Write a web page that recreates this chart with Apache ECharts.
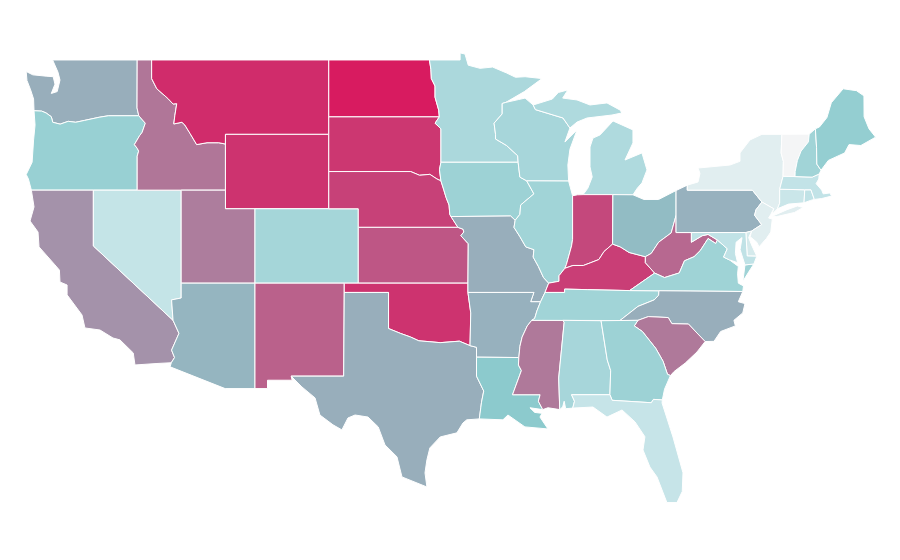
<!DOCTYPE html>
<html><head><meta charset="utf-8">
<style>html,body{margin:0;padding:0;background:#fff}#c{width:900px;height:560px}</style>
<script src="https://cdn.jsdelivr.net/npm/echarts@6/dist/echarts.min.js"></script>
</head><body><div id="c"></div>
<script>
const stateNames=['WA','OR','CA','NV','ID','MT','WY','UT','AZ','CO','NM','ND','SD','NE','KS','OK','TX','MN','IA','MO','AR','LA','WI','IL','MS','MI','IN','KY','TN','AL','OH','WV','VA','NC','SC','GA','FL','PA','NY','NJ','DE','MD','CT','RI','MA','VT','NH','ME'];
const stateValues=[58,44,66,23,74,95,93,72,56,38,80,100,92,89,83,93,58,35,42,58,57,50,37,40,73,33,87,90,40,37,54,78,41,58,73,42,22,57,9,9,15,25,20,25,24,0,40,46];
const rampStops=['#f4f5f6','#c0e2e6','#8ccacd','#b27296','#d81b60'];

const shapes={
WA:[[[-117.03,49],[-122.76,49],[-122.4,48.35],[-122.26,47.92],[-122.45,47.3],[-122.85,47.2],[-122.6,47.7],[-122.72,48.1],[-123.2,48.13],[-124.1,48.2],[-124.55,48.38],[-124.5,47.9],[-124.25,47.39],[-124.05,46.9],[-124.02,46.27],[-123.5,46.25],[-123.2,46.15],[-122.85,45.95],[-122.75,45.65],[-122.25,45.55],[-121.7,45.7],[-121.2,45.65],[-120.6,45.75],[-119.6,45.92],[-118.98,46],[-116.92,46],[-117.04,46.42]]],
OR:[[[-124.02,46.27],[-123.5,46.25],[-123.2,46.15],[-122.85,45.95],[-122.75,45.65],[-122.25,45.55],[-121.7,45.7],[-121.2,45.65],[-120.6,45.75],[-119.6,45.92],[-118.98,46],[-116.92,46],[-116.48,45.6],[-116.7,45.1],[-116.85,44.95],[-117.22,44.45],[-117.03,44.25],[-116.93,44.1],[-117.03,43.83],[-117.03,42],[-124.2,42],[-124.4,42.6],[-124.55,42.84],[-124.15,43.5],[-124.05,44.7],[-123.95,45.5]]],
CA:[[[-124.2,42],[-120,42],[-120,39],[-114.6,35],[-114.2,34.3],[-114.7,33.4],[-114.5,33],[-114.72,32.72],[-115.69,32.68],[-117.18,32.6],[-117.3,33.25],[-118.2,33.95],[-118.67,34.05],[-119.55,34.48],[-120.57,34.59],[-120.77,35.29],[-121.78,36.37],[-121.78,36.9],[-122.26,37.06],[-122.3,37.7],[-122.6,37.98],[-123.68,38.95],[-123.75,39.75],[-124.29,40.34],[-124.02,41.1]]],
NV:[[[-120,42],[-114.05,42],[-114.05,36.2],[-114.7,36.1],[-114.6,35],[-120,39]]],
ID:[[[-117.03,49],[-116.05,49],[-116.05,48],[-115.7,47.45],[-114.95,46.93],[-114.6,46.63],[-114.35,46.65],[-114.48,46],[-114.55,45.56],[-114,45.65],[-113.8,45.5],[-113.45,45.05],[-113,44.45],[-112.3,44.55],[-111.5,44.55],[-111.05,44.48],[-111.05,42],[-117.03,42],[-117.03,43.83],[-116.93,44.1],[-117.03,44.25],[-117.22,44.45],[-116.85,44.95],[-116.7,45.1],[-116.48,45.6],[-116.92,46],[-117.04,46.42]]],
MT:[[[-116.05,49],[-104.05,49],[-104.05,45],[-111.05,45],[-111.05,44.48],[-111.5,44.55],[-112.3,44.55],[-113,44.45],[-113.45,45.05],[-113.8,45.5],[-114,45.65],[-114.55,45.56],[-114.48,46],[-114.35,46.65],[-114.6,46.63],[-114.95,46.93],[-115.7,47.45],[-116.05,48]]],
WY:[[[-111.05,45],[-104.05,45],[-104.05,41],[-111.05,41]]],
UT:[[[-111.05,42],[-111.05,41],[-109.05,41],[-109.05,37],[-114.05,37],[-114.05,42]]],
AZ:[[[-114.05,37],[-109.05,37],[-109.05,31.33],[-111.07,31.33],[-114.8,32.5],[-114.72,32.72],[-114.5,33],[-114.7,33.4],[-114.2,34.3],[-114.6,35],[-114.7,36.1],[-114.05,36.2]]],
CO:[[[-109.05,41],[-102.05,41],[-102.05,37],[-109.05,37]]],
NM:[[[-109.05,37],[-103,37],[-103.04,32],[-106.6,32],[-106.53,31.78],[-108.2,31.78],[-108.2,31.33],[-109.05,31.33]]],
ND:[[[-104.05,49],[-97.23,49],[-97.13,48.5],[-97.1,48],[-96.85,47.6],[-96.85,47],[-96.6,46.3],[-96.56,45.94],[-104.05,45.94]]],
SD:[[[-104.05,45.94],[-96.56,45.94],[-96.85,45.6],[-96.45,45.3],[-96.45,43.5],[-96.55,43.1],[-96.45,42.5],[-96.72,42.6],[-97.2,42.85],[-97.9,42.8],[-98.5,43],[-104.05,43]]],
NE:[[[-104.05,43],[-98.5,43],[-97.9,42.8],[-97.2,42.85],[-96.72,42.6],[-96.45,42.5],[-96.25,42],[-96.1,41.6],[-95.9,41.2],[-95.85,40.7],[-95.77,40.58],[-95.3,40],[-102.05,40],[-102.05,41],[-104.05,41]]],
KS:[[[-102.05,40],[-95.3,40],[-94.95,39.9],[-94.9,39.75],[-95.1,39.55],[-94.6,39.12],[-94.62,37],[-102.05,37]]],
OK:[[[-103,37],[-94.62,37],[-94.62,36.5],[-94.43,35.4],[-94.48,33.64],[-95.2,33.88],[-96.5,33.8],[-97.2,33.85],[-97.95,33.9],[-98.5,34.1],[-99.2,34.3],[-100,34.56],[-100,36.5],[-103,36.5]]],
TX:[[[-106.6,32],[-103.04,32],[-103,36.5],[-100,36.5],[-100,34.56],[-99.2,34.3],[-98.5,34.1],[-97.95,33.9],[-97.2,33.85],[-96.5,33.8],[-95.2,33.88],[-94.48,33.64],[-94.04,33.55],[-94.04,33.02],[-94.04,32],[-93.55,31.2],[-93.7,30.6],[-93.75,30.3],[-93.85,29.7],[-94.7,29.65],[-94.96,29.48],[-95.37,28.95],[-96.5,28.73],[-97.2,28.14],[-97.4,27.5],[-97.53,26.8],[-97.4,26.04],[-99.09,26.58],[-99.43,27.66],[-100.24,28.3],[-100.7,29.27],[-101.39,29.8],[-102.27,29.91],[-102.75,29.75],[-103.16,29.11],[-103.76,29.38],[-104.65,29.91],[-104.98,30.83],[-105.87,31.42]]],
MN:[[[-97.23,49],[-95.15,49],[-95.15,49.38],[-94.82,49.32],[-94.6,48.72],[-93.8,48.55],[-92.95,48.62],[-92,48.3],[-91.4,48.07],[-90.75,48.1],[-89.6,48],[-90.8,47.3],[-92.05,46.72],[-92.3,46.66],[-92.3,46.1],[-92.85,45.6],[-92.75,45],[-92.75,44.75],[-92,44.4],[-91.25,43.85],[-91.22,43.5],[-96.45,43.5],[-96.45,45.3],[-96.85,45.6],[-96.56,45.94],[-96.6,46.3],[-96.85,47],[-96.85,47.6],[-97.1,48],[-97.13,48.5]]],
IA:[[[-96.45,43.5],[-91.22,43.5],[-91.1,42.7],[-90.64,42.5],[-90.15,41.8],[-91.05,41.2],[-91.1,40.7],[-91.42,40.38],[-91.73,40.61],[-95.77,40.58],[-95.85,40.7],[-95.9,41.2],[-96.1,41.6],[-96.25,42],[-96.45,42.5],[-96.55,43.1]]],
MO:[[[-95.77,40.58],[-91.73,40.61],[-91.42,40.38],[-91.5,40],[-91.1,39.5],[-90.7,38.95],[-90.15,38.8],[-90.2,38.4],[-89.85,37.9],[-89.5,37.3],[-89.15,37],[-89.4,36.5],[-89.7,36],[-90.37,36],[-90.15,36.5],[-94.62,36.5],[-94.62,37],[-94.6,39.12],[-95.1,39.55],[-94.9,39.75],[-94.95,39.9],[-95.3,40]]],
AR:[[[-94.62,36.5],[-90.15,36.5],[-90.37,36],[-89.7,36],[-89.95,35.5],[-90.1,35.1],[-90.3,35],[-90.6,34.7],[-90.95,34.1],[-91.1,33.6],[-91.17,33],[-94.04,33.02],[-94.04,33.55],[-94.48,33.64],[-94.43,35.4]]],
LA:[[[-94.04,33.02],[-91.17,33],[-91.2,32.6],[-91,32.3],[-91.6,31],[-89.73,31],[-89.85,30.65],[-89.55,30.2],[-90.42,30.3],[-90.1,30.05],[-89.6,30],[-89.74,29.8],[-89.2,29.16],[-90.76,29.27],[-91.91,29.91],[-92.25,29.65],[-93.85,29.7],[-93.75,30.3],[-93.7,30.6],[-93.55,31.2],[-94.04,32]]],
WI:[[[-92.05,46.72],[-91.2,46.87],[-90.75,46.95],[-90.2,46.58],[-90.05,46.33],[-88.18,45.88],[-87.85,45.5],[-87.71,45.34],[-88.05,44.59],[-87.23,45.24],[-87.71,44.2],[-87.85,43.35],[-87.8,42.49],[-90.64,42.5],[-91.1,42.7],[-91.22,43.5],[-91.25,43.85],[-92,44.4],[-92.75,44.75],[-92.75,45],[-92.85,45.6],[-92.3,46.1],[-92.3,46.66]]],
IL:[[[-90.64,42.5],[-87.8,42.49],[-87.53,41.7],[-87.53,39.35],[-87.6,39],[-87.95,38],[-88.05,37.8],[-88.45,37.4],[-88.45,37.1],[-89.15,37],[-89.5,37.3],[-89.85,37.9],[-90.2,38.4],[-90.15,38.8],[-90.7,38.95],[-91.1,39.5],[-91.5,40],[-91.42,40.38],[-91.1,40.7],[-91.05,41.2],[-90.15,41.8]]],
MS:[[[-90.3,35],[-88.2,35],[-88.1,34.9],[-88.47,31.9],[-88.4,30.2],[-89.2,30.3],[-89.55,30.2],[-89.85,30.65],[-89.73,31],[-91.6,31],[-91,32.3],[-91.2,32.6],[-91.17,33],[-91.1,33.6],[-90.95,34.1],[-90.6,34.7]]],
MI:[[[-86.82,41.76],[-84.8,41.76],[-83.44,41.75],[-83.15,42.1],[-82.83,42.39],[-82.49,43.09],[-82.83,44],[-83.98,43.62],[-83.44,44.54],[-83.44,45.24],[-84.79,45.72],[-85.67,44.97],[-86.15,44.8],[-86.35,44.32],[-86.35,43.25],[-86.2,42.71],[-86.5,42.1]],[[-90.2,46.58],[-90.05,46.33],[-88.18,45.88],[-87.85,45.5],[-87.71,45.34],[-87.23,45.66],[-86.55,45.88],[-84.86,46.04],[-84.2,46.15],[-84.3,46.3],[-85.2,46.69],[-86.35,46.58],[-87.23,46.85],[-88.2,46.95],[-87.85,47.39],[-88.5,47.25],[-88.9,46.9]]],
IN:[[[-87.53,41.7],[-87.2,41.75],[-86.82,41.76],[-84.8,41.76],[-84.82,39.1],[-85.4,38.7],[-85.75,38.27],[-86.3,38.1],[-86.8,37.95],[-87.5,37.95],[-88.05,37.8],[-87.95,38],[-87.6,39],[-87.53,39.35]]],
KY:[[[-89.15,37],[-88.45,37.1],[-88.45,37.4],[-88.05,37.8],[-87.5,37.95],[-86.8,37.95],[-86.3,38.1],[-85.75,38.27],[-85.4,38.7],[-84.82,39.1],[-84.3,38.95],[-83.7,38.65],[-82.6,38.42],[-82.6,38.1],[-81.97,37.54],[-83.67,36.6],[-86.5,36.65],[-88.07,36.68],[-88.07,36.5],[-89.4,36.5]]],
TN:[[[-90.3,35],[-90.1,35.1],[-89.95,35.5],[-89.7,36],[-89.4,36.5],[-88.07,36.5],[-88.07,36.68],[-86.5,36.65],[-83.67,36.6],[-81.68,36.59],[-81.7,36.35],[-82,36.1],[-83.1,35.75],[-84.32,34.99]]],
AL:[[[-88.2,35],[-85.6,34.98],[-85.18,32.87],[-84.95,32.3],[-85,31],[-87.6,31],[-87.4,30.65],[-87.52,30.28],[-88,30.25],[-88.1,30.65],[-88.2,30.35],[-88.4,30.2],[-88.47,31.9],[-88.1,34.9]]],
OH:[[[-84.8,41.76],[-83.44,41.75],[-82.7,41.5],[-81.7,41.5],[-80.52,41.98],[-80.52,40.64],[-80.85,39.7],[-81.7,39.2],[-82.2,38.6],[-82.6,38.42],[-83.7,38.65],[-84.3,38.95],[-84.82,39.1]]],
WV:[[[-82.6,38.42],[-82.2,38.6],[-81.7,39.2],[-80.85,39.7],[-80.52,40.64],[-80.52,39.72],[-79.48,39.72],[-79.48,39.2],[-78.75,39.55],[-78.35,39.62],[-77.72,39.32],[-77.83,39.13],[-78.35,39.4],[-78.87,38.76],[-79.3,38.42],[-79.95,38.2],[-80.3,37.55],[-81.3,37.3],[-81.97,37.54],[-82.6,38.1]]],
VA:[[[-83.67,36.6],[-81.97,37.54],[-81.3,37.3],[-80.3,37.55],[-79.95,38.2],[-79.3,38.42],[-78.87,38.76],[-78.35,39.4],[-77.83,39.13],[-77.72,39.32],[-77.05,38.85],[-77.3,38.4],[-76.9,38.25],[-76.3,37.9],[-76.35,37.5],[-76.3,37],[-75.95,36.85],[-76,36.55],[-81.68,36.59]],[[-75.99,37.1],[-75.6,37.6],[-75.25,38.03],[-75.85,37.98]]],
NC:[[[-84.32,34.99],[-83.1,35.75],[-82,36.1],[-81.7,36.35],[-81.68,36.59],[-76,36.55],[-76.3,36],[-75.85,35.9],[-76,35.4],[-76.6,35],[-76.5,34.7],[-77.5,34.4],[-77.95,33.87],[-78.55,33.86],[-79.68,34.8],[-80.8,34.82],[-81.05,35.15],[-82.4,35.2],[-83.1,35]]],
SC:[[[-83.1,35],[-82.4,35.2],[-81.05,35.15],[-80.8,34.82],[-79.68,34.8],[-78.55,33.86],[-79.1,33.3],[-79.9,32.7],[-80.65,32.25],[-80.9,32.03],[-81.1,32.1],[-81.4,32.8],[-81.9,33.5],[-82.8,34.4],[-83.35,34.7]]],
GA:[[[-85.6,34.98],[-83.1,35],[-83.35,34.7],[-82.8,34.4],[-81.9,33.5],[-81.4,32.8],[-81.1,32.1],[-80.9,32.03],[-81.3,31.3],[-81.45,30.72],[-82.05,30.75],[-82.2,30.57],[-84.85,30.7],[-85,31],[-84.95,32.3],[-85.18,32.87]]],
FL:[[[-87.6,31],[-85,31],[-84.85,30.7],[-82.2,30.57],[-82.05,30.75],[-81.45,30.72],[-81.47,30.56],[-80.73,28.73],[-80.05,26.8],[-80.1,25.8],[-80.46,25.2],[-81.14,25.2],[-81.81,26.58],[-82.29,27.11],[-82.76,28.03],[-82.63,28.74],[-83.3,29.54],[-84.18,30.18],[-85.2,29.8],[-86.15,30.34],[-87.52,30.28],[-87.4,30.65]]],
PA:[[[-80.52,41.98],[-79.76,42.27],[-79.76,42],[-75.35,42],[-74.7,41.36],[-75.1,40.95],[-75.2,40.65],[-74.72,40.15],[-75.4,39.8],[-75.79,39.72],[-80.52,39.72]]],
NY:[[[-79.76,42.27],[-79.03,42.44],[-78.9,42.9],[-79.03,43.19],[-76.87,43.35],[-76.19,43.55],[-76.19,44],[-75.51,44.7],[-74.7,45],[-73.35,45],[-73.4,44],[-73.25,43.55],[-73.27,42.75],[-73.5,42.05],[-73.5,41.3],[-73.65,41],[-73.9,40.8],[-74.03,40.7],[-73.9,41],[-74.7,41.36],[-75.35,42],[-79.76,42]],[[-74,40.6],[-73,40.95],[-72.3,41.15],[-71.9,41.07],[-72.5,40.8],[-73.7,40.58]]],
NJ:[[[-74.7,41.36],[-73.9,41],[-74.1,40.7],[-74.25,40.5],[-74,40.45],[-74.1,39.75],[-74.4,39.4],[-74.9,38.95],[-75.05,39.2],[-75.5,39.5],[-75.4,39.8],[-74.72,40.15],[-75.2,40.65],[-75.1,40.95]]],
DE:[[[-75.79,39.72],[-75.4,39.8],[-75.6,39.45],[-75.4,39.05],[-75.05,38.45],[-75.7,38.46]]],
MD:[[[-79.48,39.72],[-75.79,39.72],[-75.7,38.46],[-75.05,38.45],[-75.25,38.03],[-75.85,37.98],[-76.18,38.8],[-76.05,39.45],[-76.45,39.2],[-76.5,38.6],[-76.35,38.1],[-76.9,38.25],[-77.3,38.4],[-77.05,38.85],[-77.72,39.32],[-78.35,39.62],[-78.75,39.55],[-79.48,39.2]]],
CT:[[[-73.5,42.05],[-71.8,42.02],[-71.85,41.32],[-72.9,41.25],[-73.65,41],[-73.5,41.3]]],
RI:[[[-71.8,42.02],[-71.38,42.02],[-71.15,41.5],[-71.4,41.45],[-71.85,41.32]]],
MA:[[[-73.5,42.05],[-73.27,42.75],[-72.46,42.73],[-71.3,42.7],[-70.82,42.87],[-70.85,42.6],[-71.03,42.35],[-70.65,42],[-70.55,41.8],[-70.1,41.85],[-69.98,41.68],[-70.65,41.55],[-71.15,41.5],[-71.38,42.02],[-71.8,42.02]]],
VT:[[[-73.35,45],[-71.5,45.01],[-71.55,44.6],[-72.05,44.1],[-72.3,43.6],[-72.45,43],[-72.46,42.73],[-73.27,42.75],[-73.25,43.55],[-73.4,44]]],
NH:[[[-71.5,45.01],[-71.08,45.3],[-71,44.3],[-70.98,43.4],[-70.7,43.07],[-70.82,42.87],[-71.3,42.7],[-72.46,42.73],[-72.45,43],[-72.3,43.6],[-72.05,44.1],[-71.55,44.6]]],
ME:[[[-71.08,45.3],[-70.8,45.4],[-70.3,45.9],[-70,46.7],[-69.2,47.45],[-68.3,47.35],[-67.79,47.07],[-67.78,45.95],[-67.45,45.3],[-67,44.85],[-68,44.4],[-68.8,44.45],[-69.1,44],[-70.2,43.6],[-70.7,43.07],[-70.98,43.4],[-71,44.3]]]
};

const features=stateNames.map(n=>({type:'Feature',properties:{name:n},
  geometry:{type:'MultiPolygon',coordinates:shapes[n].map(r=>[r.concat([r[0]])])}}));
echarts.registerMap('usa',{type:'FeatureCollection',features});

const chart=echarts.init(document.getElementById('c'),null,{renderer:'canvas'});
chart.setOption({
  animation:false,
  backgroundColor:'#fff',
  visualMap:{show:false,type:'continuous',min:0,max:100,inRange:{color:rampStops}},
  series:[{
    type:'map',map:'usa',silent:true,roam:false,
    left:26.2,top:52.9,width:849.4,height:449.7,
    label:{show:false},
    itemStyle:{borderColor:'#fff',borderWidth:1},
    data:stateNames.map((n,i)=>({name:n,value:stateValues[i]}))
  }]
});
</script></body></html>
